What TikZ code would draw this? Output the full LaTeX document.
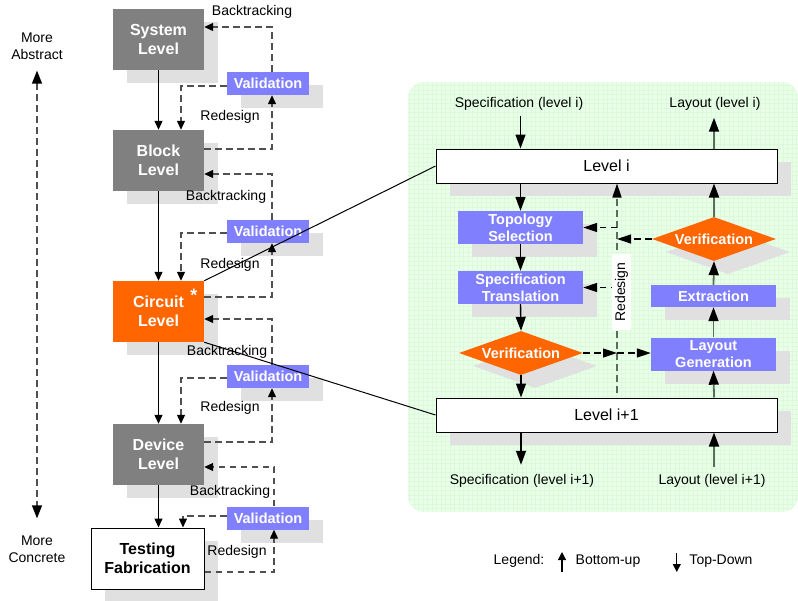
\documentclass[tikz,border=0pt]{standalone}
\usepackage{fontspec}
\setmainfont{Liberation Sans}
\usetikzlibrary{arrows.meta,shapes.geometric,shadows}

\definecolor{boxgray}{RGB}{128,128,128}
\definecolor{orng}{RGB}{255,102,0}
\definecolor{valblue}{RGB}{128,128,255}
\definecolor{shgray}{RGB}{224,224,224}
\definecolor{dashgray}{RGB}{80,80,80}
\definecolor{upgreen}{RGB}{90,108,90}
\definecolor{panelgreen}{RGB}{234,255,234}
\definecolor{gridgreen}{RGB}{218,250,218}

\tikzset{
  shad/.style={drop shadow={shadow xshift=14pt, shadow yshift=-13pt, fill=shgray, opacity=1}},
  lbl/.style={font=\fontsize{14}{17}\selectfont, inner sep=0, align=center},
  lvlbox/.style={rectangle, fill=boxgray, text=white, shad,
    font=\fontsize{16}{19}\selectfont\bfseries, align=center,
    minimum width=91pt, minimum height=61pt, inner sep=0},
  valbox/.style={rectangle, fill=valblue, text=white, shad,
    font=\fontsize{14.5}{17}\selectfont\bfseries,
    minimum width=82pt, minimum height=23pt, inner sep=0},
  wbox/.style={rectangle, fill=white, draw=black, line width=1pt, shad,
    font=\fontsize{16}{19}\selectfont,
    minimum width=341pt, minimum height=34pt, inner sep=0},
  bbox/.style={rectangle, fill=valblue, text=white, shad,
    font=\fontsize{14.5}{17}\selectfont\bfseries, align=center,
    minimum width=125pt, minimum height=33pt, inner sep=0},
  dbox/.style={diamond, aspect=2.8, fill=orng, text=white, shad,
    font=\fontsize{14.5}{17}\selectfont\bfseries,
    minimum width=124pt, minimum height=44pt, inner sep=0},
  redlbl/.style={rectangle, fill=white, rotate=90, font=\fontsize{14}{17}\selectfont,
    inner xsep=8.5pt, inner ysep=2.5pt},
  sarrow/.style={line width=1.2pt, -{Triangle[length=9pt,width=8pt]}},
  dline/.style={dashgray, line width=1.2pt, dash pattern=on 6.5pt off 4.5pt,
    -{Triangle[length=9pt,width=8pt,color=black,fill=black]}},
  rdown/.style={line width=1.4pt, -{Triangle[length=14pt,width=10pt]}},
  rup/.style={upgreen, line width=1.8pt, -{Triangle[length=14pt,width=10pt,color=black,fill=black]}},
  rdash/.style={black, line width=1.2pt, dash pattern=on 6.5pt off 4.5pt,
    -{Triangle[length=14pt,width=9pt]}},
  rvdash/.style={upgreen, line width=1.4pt, dash pattern=on 7pt off 4pt,
    -{Triangle[length=14pt,width=9pt,color=black,fill=black]}},
  axarrow/.style={dashgray, line width=1.2pt, dash pattern=on 6.5pt off 4.5pt,
    {Triangle[length=13pt,width=10pt,color=black,fill=black]}-{Triangle[length=13pt,width=10pt,color=black,fill=black]}},
  conn/.style={black, line width=1pt},
  larr/.style={line width=1.2pt, -{Triangle[length=8pt,width=8pt]}},
}

\begin{document}
\begin{tikzpicture}[x=1pt,y=-1pt]
\useasboundingbox (0,0) rectangle (798,600);

% gridded panel behind the level-i detail
\begin{scope}
  \clip[rounded corners=16pt] (408,82) rectangle (798,512);
  \fill[panelgreen] (408,82) rectangle (798,512);
  \draw[gridgreen, line width=0.3pt, step=4.5pt] (408,82) grid (798,512);
\end{scope}

% abstraction axis
\node[lbl] (abs) at (37,46) {More\\Abstract};
\node[lbl] (con) at (37,549) {More\\Concrete};
\draw[axarrow] ([yshift=-11pt]abs.south) -- ([yshift=17pt]con.north);

% level hierarchy
\node[lvlbox] (sys) at (158.5,39.5) {System\\Level};
\node[lvlbox] (blk) at (158.5,160.5) {Block\\Level};
\node[lvlbox, fill=orng] (cir) at (158.5,311.5) {Circuit\\Level};
\node[lvlbox] (dev) at (158.5,454.5) {Device\\Level};
\node[lvlbox, fill=white, text=black, draw=black, line width=1pt, minimum width=113pt] (tst) at (147.5,558.5) {Testing\\Fabrication};
\node[text=white, font=\fontsize{18}{18}\selectfont\bfseries, inner sep=0] (ast) at (194,295.5) {*};

\node[valbox] (v1) at (268,83.5) {Validation};
\node[valbox] (v2) at (268,231.5) {Validation};
\node[valbox] (v3) at (268,376.5) {Validation};
\node[valbox] (v4) at (268,518) {Validation};

\coordinate (bx) at (272,0);
\coordinate (bx4) at (274,0);
\coordinate (rdx) at (181,0);
\coordinate (rdx4) at (183,0);

% top-down flow
\draw[sarrow] (sys) -- (blk);
\draw[sarrow] (blk) -- (cir);
\draw[sarrow] (cir) -- (dev);
\draw[sarrow] (dev.south) -- (dev.south |- tst.north);

% validation loops
\draw[dline] (v1.north -| bx) |- ([yshift=12.5pt]sys.east);
\draw[dline] ([yshift=-2.5pt]v1.west) -| (rdx |- blk.north);
\draw[dline] ([yshift=11.5pt]blk.east) -| (bx |- v1.south);

\draw[dline] (v2.north -| bx) |- ([yshift=-13.5pt]blk.east);
\draw[dline] ([yshift=-1.5pt]v2.west) -| (rdx |- cir.north);
\draw[dline] ([yshift=14.5pt]cir.east) -| (bx |- v2.south);

\draw[dline] (v3.north -| bx) |- ([yshift=-7.5pt]cir.east);
\draw[dline] ([yshift=-1.5pt]v3.west) -| (rdx |- dev.north);
\draw[dline] ([yshift=12.5pt]dev.east) -| (bx |- v3.south);

\draw[dline] (v4.north -| bx4) |- ([yshift=-12.5pt]dev.east);
\draw[dline] ([yshift=2pt]v4.west) -| (rdx4 |- tst.north);
\draw[dline] ([yshift=-13.5pt]tst.east) -| (bx4 |- v4.south);

\node[lbl] (bt1) at (252,12) {Backtracking};
\node[lbl] (rd1) at (230,117) {Redesign};
\node[lbl] (bt2) at (226,197) {Backtracking};
\node[lbl] (rd2) at (230,265) {Redesign};
\node[lbl] (bt3) at (227,352) {Backtracking};
\node[lbl] (rd3) at (230,408) {Redesign};
\node[lbl] (bt4) at (230,492) {Backtracking};
\node[lbl] (rd4) at (237,552) {Redesign};

% level-i detail
\node[wbox] (lvi) at (606.5,166) {Level i};
\node[wbox] (lvi1) at (606.5,415) {Level i+1};
\node[bbox] (topo) at (520.5,227.5) {Topology\\Selection};
\node[bbox] (spec) at (520.5,287.5) {Specification\\Translation};
\node[dbox] (verL) at (521,353) {Verification};
\node[dbox] (verR) at (714,239) {Verification};
\node[bbox, minimum height=22pt] (ext) at (713.5,296) {Extraction};
\node[bbox] (lgen) at (713.5,354) {Layout\\Generation};

\node[lbl] (speci) at (519,104) {Specification (level i)};
\node[lbl] (layi) at (715,104) {Layout (level i)};
\node[lbl] (speci1) at (522,481) {Specification (level i+1)};
\node[lbl] (layi1) at (712,481) {Layout (level i+1)};

\draw[rdown] ([yshift=-5pt]topo.north |- speci.south) -- (topo.north |- lvi.north);
\draw[rup] (verR.north |- lvi.north) -- ([yshift=-7pt]verR.north |- layi.south);

\draw[rdown] (topo.north |- lvi.south) -- (topo.north);
\draw[rdown] (topo) -- (spec);
\draw[rdown] (spec.south) -- (verL.north);
\draw[rdown] (verL.south) -- (verL.south |- lvi1.north);
\draw[rdown] (verL.south |- lvi1.south) -- ([yshift=9.5pt]verL.south |- speci1.north);

\draw[rup] ([yshift=7.5pt]verR.south |- layi1.north) -- (verR.south |- lvi1.south);
\draw[rup] (verR.south |- lvi1.north) -- (lgen.south);
\draw[rup] (lgen) -- (ext);
\draw[rup] (ext.north) -- (verR.south);
\draw[rup] (verR.north) -- (verR.north |- lvi.south);

\coordinate (rx) at (617,0);
\draw[rvdash] ([yshift=5pt]rx |- lvi1.north) -- (rx |- lvi.south);
\draw[rdash] (rx |- topo.east) -- (topo.east);
\draw[rdash] (rx |- spec.east) -- (spec.east);
\draw[rdash] (verR.west) -- (rx |- verR.west);
\draw[rdash] (verL.east) -- (rx |- verL.east);
\draw[rdash] (rx |- verL.east) -- (lgen.west |- verL.east);
\node[redlbl] (rdlbl) at (621.5,292) {Redesign};

% circuit level expanded into the detail
\draw[conn] (cir.north east) -- (lvi.west);
\draw[conn] (cir.south east) -- (lvi1.west);

% legend
\node[lbl] (leg) at (519,561) {Legend:};
\node[lbl] (bu) at (608,561) {Bottom-up};
\node[lbl] (td) at (721,561) {Top-Down};
\draw[larr] ([xshift=-13.5pt,yshift=-11pt]bu.west) -- ([xshift=-13.5pt,yshift=9pt]bu.west);
\draw[larr] ([xshift=-12.5pt,yshift=8pt]td.west) -- ([xshift=-12.5pt,yshift=-11pt]td.west);
\end{tikzpicture}
\end{document}
